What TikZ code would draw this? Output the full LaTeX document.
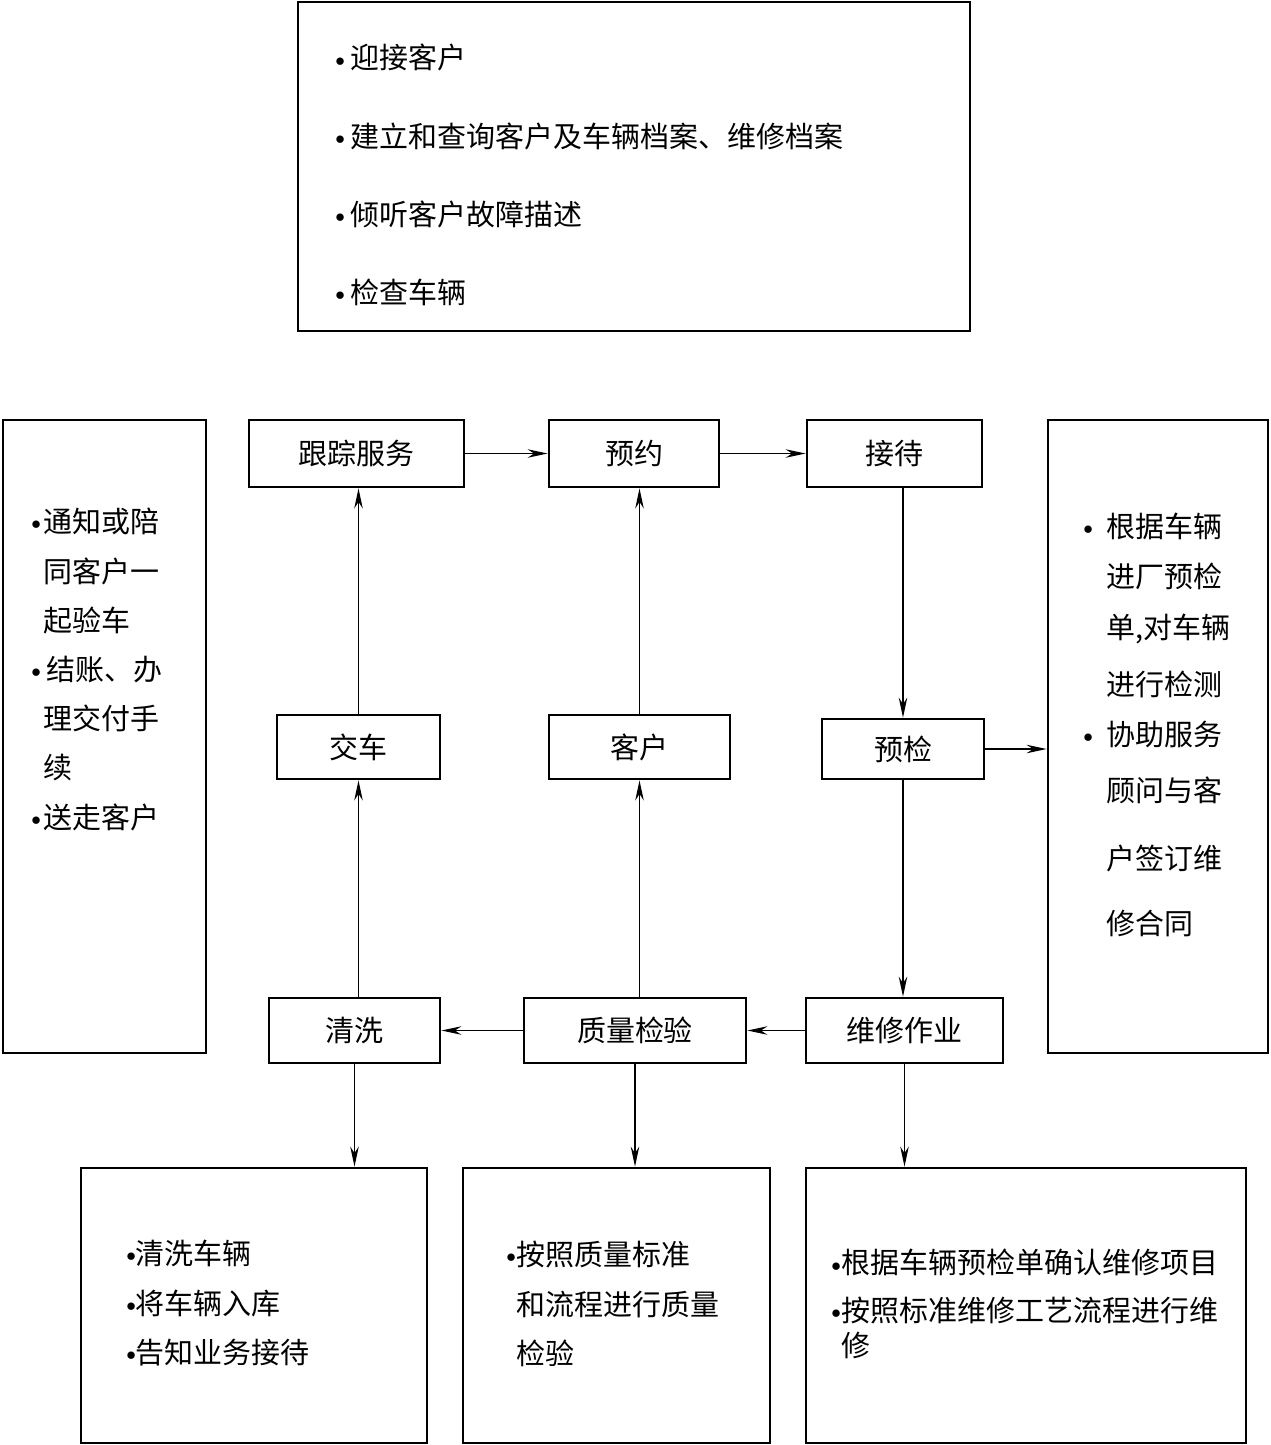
\documentclass[tikz,border=0pt]{standalone}
\usepackage{fontspec}
\setmainfont{Noto Sans CJK SC}
\usetikzlibrary{arrows.meta}

\newcommand{\dotitem}[1][0.3cm]{\makebox[#1][l]{\raisebox{0.1em}{\fontsize{11}{11}\selectfont$\bullet$}}}
\newcommand{\hang}[1][0.3cm]{\hspace*{#1}}

\begin{document}
\begin{tikzpicture}[x=0.02cm, y=-0.02cm,
  blk/.style={draw, line width=1.6pt, inner sep=0pt, font=\fontsize{16.5}{20}\selectfont},
  sz/.style 2 args={minimum width=#1*0.02cm, minimum height=#2*0.02cm},
  txt/.style={font=\fontsize{16.5}{#1}\selectfont, align=left, anchor=north west, inner sep=0pt},
  txt/.default=28,
  arr/.style={line width=0.8pt, -{Stealth[length=4mm, width=1.7mm]}}]

\useasboundingbox (0,0) rectangle (1271,1445);

% Kaesten mit Aufgaben
\node[blk, sz={672}{329}] (top) at (634,166.5) {};
\node[blk, sz={203}{633}] (lbox) at (104.5,736.5) {};
\node[blk, sz={220}{633}] (rbox) at (1158,736.5) {};
\node[blk, sz={346}{275}] (bl) at (254,1305.5) {};
\node[blk, sz={307}{275}] (bm) at (616.5,1305.5) {};
\node[blk, sz={440}{275}] (br) at (1026,1305.5) {};

% Ablauf
\node[blk, sz={215}{67}] (genzong) at (356.5,453.5) {跟踪服务};
\node[blk, sz={170}{67}] (yuyue) at (634,453.5) {预约};
\node[blk, sz={175}{67}] (jiedai) at (894.5,453.5) {接待};
\node[blk, sz={163}{64}] (jiaoche) at (358.5,747) {交车};
\node[blk, sz={181}{64}] (kehu) at (639.5,747) {客户};
\node[blk, sz={162}{60}] (yujian) at (903,749) {预检};
\node[blk, sz={171}{65}] (qingxi) at (354.5,1030.5) {清洗};
\node[blk, sz={222}{65}] (zhiliang) at (635,1030.5) {质量检验};
\node[blk, sz={197}{65}] (weixiu) at (904.5,1030.5) {维修作业};

% Texte
\node[txt=44.5] (ttop) at (335,44) {\dotitem 迎接客户\\ \dotitem 建立和查询客户及车辆档案、维修档案\\ \dotitem 倾听客户故障描述\\ \dotitem 检查车辆};
\node[txt] (tl) at (31,508) {\dotitem[0.24cm]通知或陪\\ \hang[0.24cm]同客户一\\ \hang[0.24cm]起验车\\ \dotitem[0.3cm]结账、办\\ \hang[0.24cm]理交付手\\ \hang[0.24cm]续\\ \dotitem[0.24cm]送走客户};
\node[txt] (tr) at (1083,513) {\dotitem[0.46cm]根据车辆\\ \hang[0.46cm]进厂预检\\[1pt] \hang[0.46cm]单,对车辆\\[5pt] \hang[0.46cm]进行检测\\ \dotitem[0.46cm]协助服务\\[4pt] \hang[0.46cm]顾问与客\\[11pt] \hang[0.46cm]户签订维\\[9pt] \hang[0.46cm]修合同};
\node[txt] (tbl) at (126,1240) {\dotitem[0.18cm]清洗车辆\\ \dotitem[0.18cm]将车辆入库\\ \dotitem[0.18cm]告知业务接待};
\node[txt] (tbm) at (506,1241) {\dotitem[0.2cm]按照质量标准\\ \hang[0.2cm]和流程进行质量\\ \hang[0.2cm]检验};
\node[txt=20] (tbr) at (831,1249) {\dotitem[0.2cm]根据车辆预检单确认维修项目\\[7pt] \dotitem[0.2cm]按照标准维修工艺流程进行维\\ \hang[0.2cm]修};

% Pfeile
\draw[arr] (genzong.east) -- (yuyue.west);
\draw[arr] (yuyue.east) -- (yuyue.east -| jiedai.west);
\draw[arr] (jiedai.south -| yujian.north) -- (yujian.north);
\draw[arr] (yujian.east) -- (yujian.east -| rbox.west);
\draw[arr] (yujian.south) -- (yujian.south |- weixiu.north);
\draw[arr] (weixiu.west) -- (zhiliang.east);
\draw[arr] (zhiliang.west) -- (qingxi.east);
\draw[arr] (kehu.south |- zhiliang.north) -- (kehu.south);
\draw[arr] (kehu.north) -- (kehu.north |- yuyue.south);
\draw[arr] (jiaoche.south |- qingxi.north) -- (jiaoche.south);
\draw[arr] (jiaoche.north) -- (jiaoche.north |- genzong.south);
\draw[arr] (qingxi.south) -- (qingxi.south |- bl.north);
\draw[arr] (zhiliang.south) -- (zhiliang.south |- bm.north);
\draw[arr] (weixiu.south) -- (weixiu.south |- br.north);

\end{tikzpicture}
\end{document}
